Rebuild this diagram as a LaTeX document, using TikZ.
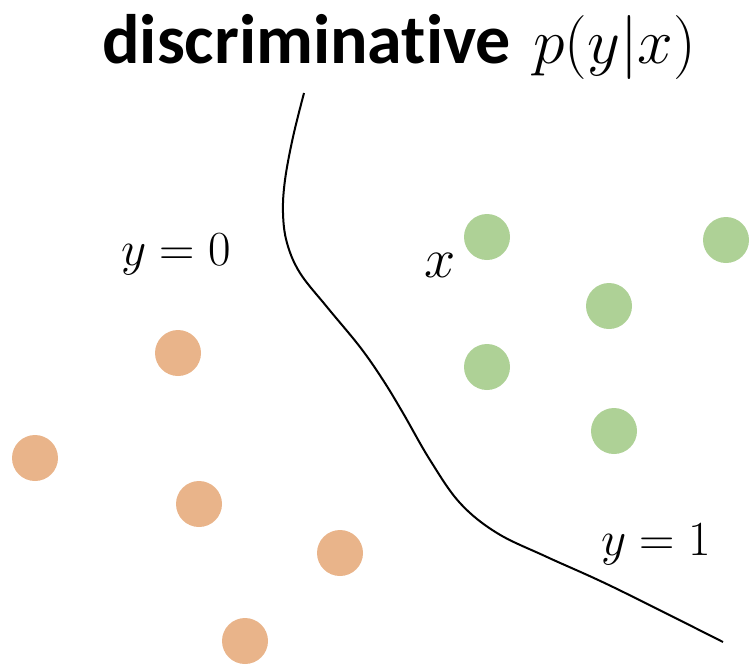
\RequirePackage{fix-cm}
\documentclass[tikz,border=0pt]{standalone}
\usepackage{fontspec}
\newfontfamily\titlefont[Ligatures={NoCommon,NoRare}]{Carlito}
\definecolor{dotorange}{HTML}{E9B48A}
\definecolor{dotgreen}{HTML}{AED196}
\begin{document}
\begin{tikzpicture}[x=1pt,y=-1pt,
  odot/.style={circle,fill=dotorange,minimum size=46pt,inner sep=0pt},
  gdot/.style={circle,fill=dotgreen,minimum size=46pt,inner sep=0pt},
  lbl/.style={anchor=base west,inner sep=0pt}]
\useasboundingbox (0,0) rectangle (751,670);
% title
\node[lbl] (title) at (102,63) {\fontsize{70}{70}\selectfont\titlefont\bfseries discriminative};
\node[lbl] (titlemath) at (533,63) {\fontsize{64}{64}\selectfont $p(y|x)$};
% labels
\node[lbl] (y0) at (121,265) {\fontsize{49}{49}\selectfont $y=0$};
\node[lbl] (y1) at (601,555) {\fontsize{49}{49}\selectfont $y=1$};
\node[lbl] (xl) at (424,277) {\fontsize{56}{56}\selectfont $x$};
% boundary
\draw[line width=2pt] plot[smooth,tension=0.6] coordinates {
 (304,93) (293,137) (285,180) (283,213) (287,243) (300,273) (327,307)
 (360,347) (383,380) (403,413) (430,460) (460,503) (497,533) (547,557)
 (613,587) (723,642)};
% orange dots
\node[odot] (o1) at (178,353) {};
\node[odot] (o2) at (35,458) {};
\node[odot] (o3) at (199,504) {};
\node[odot] (o4) at (340,553) {};
\node[odot] (o5) at (245,641) {};
% green dots
\node[gdot] (g1) at (487,237) {};
\node[gdot] (g2) at (726,240) {};
\node[gdot] (g3) at (609,306) {};
\node[gdot] (g4) at (487,367) {};
\node[gdot] (g5) at (614,431) {};
\end{tikzpicture}
\end{document}
